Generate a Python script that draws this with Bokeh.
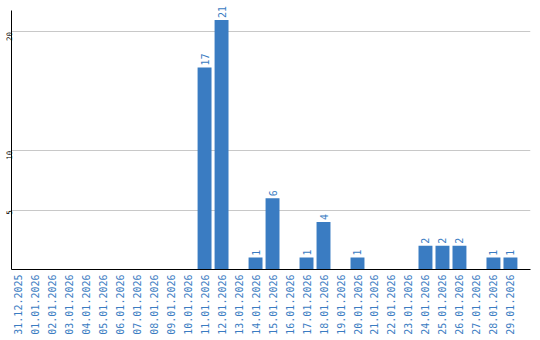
import math
from bokeh.plotting import figure
from bokeh.models import ColumnDataSource, FixedTicker, Range1d, LabelSet
from bokeh.core.properties import value
from bokeh.embed import file_html
from bokeh.resources import INLINE

dates = ["31.12.2025", "01.01.2026", "02.01.2026", "03.01.2026", "04.01.2026",
         "05.01.2026", "06.01.2026", "07.01.2026", "08.01.2026", "09.01.2026",
         "10.01.2026", "11.01.2026", "12.01.2026", "13.01.2026", "14.01.2026",
         "15.01.2026", "16.01.2026", "17.01.2026", "18.01.2026", "19.01.2026",
         "20.01.2026", "21.01.2026", "22.01.2026", "23.01.2026", "24.01.2026",
         "25.01.2026", "26.01.2026", "27.01.2026", "28.01.2026", "29.01.2026"]
counts = [0, 0, 0, 0, 0, 0, 0, 0, 0, 0,
          0, 17, 21, 0, 1, 6, 0, 1, 4, 0,
          1, 0, 0, 0, 2, 2, 2, 0, 1, 1]
y_ticks = [5, 10, 20]
y_axis_max = 21.8

BLUE = "#3a7cc2"
MONO = "DejaVu Sans Mono"

xs = list(range(len(dates)))
src = ColumnDataSource(dict(x=xs, top=counts))
nz = [i for i, c in enumerate(counts) if c > 0]
lbl = ColumnDataSource(dict(x=[xs[i] for i in nz], y=[counts[i] for i in nz],
                            t=[str(counts[i]) for i in nz]))

p = figure(width=540, height=340, output_backend="svg", toolbar_location=None,
           x_range=Range1d(-0.36, 30.18), y_range=Range1d(0, 22.48),
           min_border_left=0, min_border_right=10, min_border_top=2, min_border_bottom=71)
p.outline_line_color = None
p.background_fill_color = "white"
p.border_fill_color = "white"

p.vbar(x="x", top="top", width=0.82, bottom=0, source=src, color=BLUE, line_color=None)
labels = LabelSet(x="x", y="y", text="t", source=lbl, angle=math.pi / 2,
                  text_align="left", text_baseline="middle", y_offset=2,
                  text_color=value(BLUE), text_font=value(MONO),
                  text_font_size=value("10px"))
p.add_layout(labels)

p.xaxis.ticker = FixedTicker(ticks=xs)
p.xaxis.major_label_overrides = {i: d for i, d in enumerate(dates)}
p.xaxis.major_label_orientation = math.pi / 2
p.xaxis.major_label_text_color = BLUE
p.xaxis.major_label_text_font = MONO
p.xaxis.major_label_text_font_size = "10px"
p.xaxis.major_tick_out = 0
p.xaxis.major_tick_in = 0
p.xaxis.minor_tick_out = 0
p.xaxis.minor_tick_in = 0
p.xaxis.major_tick_line_color = None
p.xaxis.minor_tick_line_color = None
p.xaxis.major_label_standoff = 5
p.xaxis.axis_line_color = "black"

p.yaxis.ticker = FixedTicker(ticks=y_ticks)
p.yaxis.bounds = (0, y_axis_max)
p.yaxis.major_label_orientation = math.pi / 2
p.yaxis.major_label_text_font = MONO
p.yaxis.major_label_text_font_size = "7.5px"
p.yaxis.major_label_text_color = "black"
p.yaxis.major_tick_out = 0
p.yaxis.major_tick_in = 0
p.yaxis.minor_tick_out = 0
p.yaxis.minor_tick_in = 0
p.yaxis.major_tick_line_color = None
p.yaxis.minor_tick_line_color = None
p.yaxis.major_label_standoff = 2
p.yaxis.axis_line_color = "black"

p.xgrid.grid_line_color = None
p.ygrid.ticker = FixedTicker(ticks=y_ticks)
p.ygrid.grid_line_color = "#c8c8c8"

open("out.html", "w").write(file_html(p, INLINE))
